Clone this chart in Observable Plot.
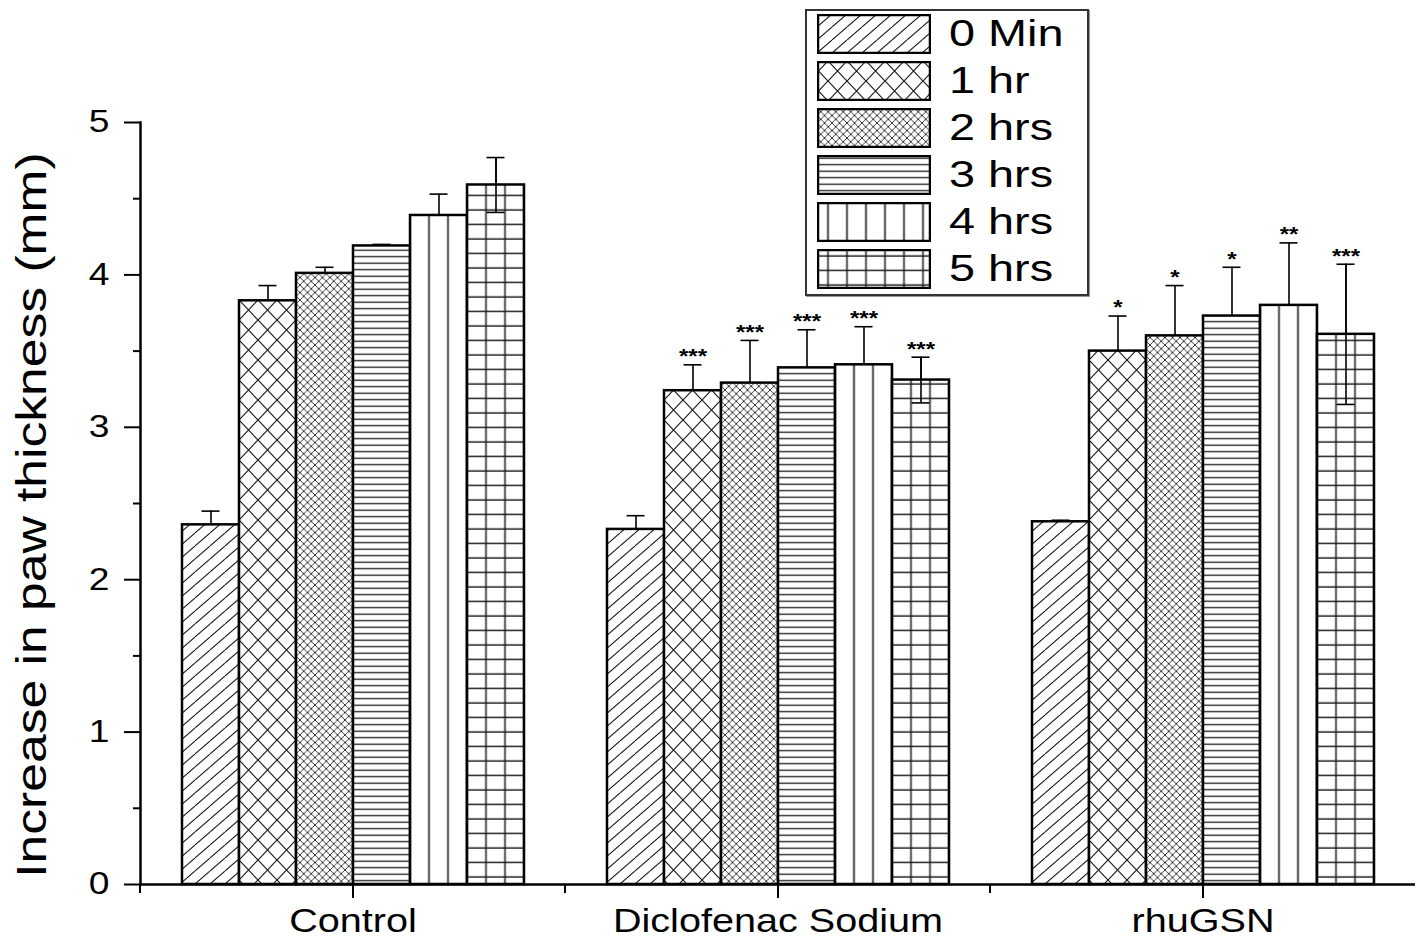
<!DOCTYPE html>
<html>
<head>
<meta charset="utf-8">
<script src="https://cdn.jsdelivr.net/npm/d3@7"></script>
<script src="https://cdn.jsdelivr.net/npm/@observablehq/plot@0.6"></script>
<style>
  body { margin: 0; background: #fff; font-family: "Liberation Sans", Arial, sans-serif; }
  #wrap { position: relative; width: 1419px; height: 939px; overflow: hidden; }
  #ytitle { position: absolute; left: 31px; top: 515px; font-size: 40px; line-height: 1; white-space: nowrap; transform-origin: 0 0; color: #000; }
  #legend { position: absolute; left: 805px; top: 9px; width: 280px; height: 283px; border: 2px solid #333; background: #fff; box-shadow: 1px 1px 0 #999; }
  .lrow { position: absolute; left: 10px; height: 40px; display: flex; align-items: center; }
  .lrow svg { display: block; }
  .lrow span { display: inline-block; margin-left: 18px; font-size: 36px; transform-origin: 0 50%; white-space: nowrap; }
</style>
</head>
<body>
<svg width="0" height="0" style="position:absolute"><defs id="pdefs"></defs></svg>
<div id="wrap">
  <div id="chart"></div>
  <div id="ytitle">Increase in paw thickness (mm)</div>
  <div id="legend"></div>
</div>
<script>
// ---- data ----
const groups = ["Control", "Diclofenac Sodium", "rhuGSN"];
const times = ["0 Min", "1 hr", "2 hrs", "3 hrs", "4 hrs", "5 hrs"];

const controlMean    = [2.36, 3.83, 4.01, 4.19, 4.39, 4.59];
const controlErr     = [0.09, 0.10, 0.04, 0.01, 0.14, 0.18];
const diclofenacMean = [2.33, 3.24, 3.29, 3.39, 3.41, 3.31];
const diclofenacErr  = [0.09, 0.17, 0.28, 0.25, 0.25, 0.15];
const rhugsnMean     = [2.38, 3.50, 3.60, 3.73, 3.80, 3.61];
const rhugsnErr      = [0.01, 0.23, 0.33, 0.32, 0.41, 0.46];

const controlStars    = ["", "", "", "", "", ""];
const diclofenacStars = ["", "***", "***", "***", "***", "***"];
const rhugsnStars     = ["", "*", "*", "*", "**", "***"];

const yTicks = [0, 1, 2, 3, 4, 5];
const yMinorTicks = [0.5, 1.5, 2.5, 3.5, 4.5];
const yLabel = "Increase in paw thickness (mm)";

// ---- table ----
const means = [controlMean, diclofenacMean, rhugsnMean];
const errs = [controlErr, diclofenacErr, rhugsnErr];
const stars = [controlStars, diclofenacStars, rhugsnStars];
const rows = [];
groups.forEach((g, gi) => times.forEach((t, ti) => rows.push({
  group: g, time: t, mean: means[gi][ti], err: errs[gi][ti], stars: stars[gi][ti]
})));
const lastTime = times[times.length - 1];
const patternFills = times.map((t, i) => `url(#pat${i})`);

const font = "'Liberation Sans', Arial, sans-serif";

const chart = Plot.plot({
  width: 1419,
  height: 939,
  marginTop: 122,
  marginBottom: 55,
  marginLeft: 140,
  marginRight: 4,
  style: { fontFamily: font, background: "transparent", color: "#000" },
  fx: { domain: groups, padding: 0, label: null },
  x: { domain: times, paddingInner: 0, paddingOuter: 0.717, axis: null },
  y: { domain: [0, 5] },
  color: { domain: times, range: patternFills },
  marks: [
    Plot.axisY({ ticks: yMinorTicks, tickSize: 7, tickFormat: () => "", label: null, strokeWidth: 2 }),
    Plot.axisY({ ticks: yTicks, tickSize: 16, tickPadding: 15, tickFormat: d => String(d), fontSize: 31, label: null, strokeWidth: 2 }),
    Plot.axisFx({ anchor: "bottom", tickSize: 14, tickPadding: 10, fontSize: 33, label: null, strokeWidth: 2 }),
    // error bars (lower half hidden behind the bars)
    Plot.ruleX(rows, { fx: "group", x: "time", y1: d => d.mean - d.err, y2: d => d.mean + d.err, strokeWidth: 1.6 }),
    Plot.tickY(rows, { fx: "group", x: "time", y: d => d.mean + d.err, insetLeft: 19.5, insetRight: 19.5, strokeWidth: 1.6 }),
    Plot.barY(rows, { fx: "group", x: "time", y: "mean", fill: "time", stroke: "#000", strokeWidth: 2.5 }),
    // last series error bars drawn over the bars
    Plot.ruleX(rows.filter(d => d.time === lastTime), { fx: "group", x: "time", y1: d => d.mean - d.err, y2: d => d.mean + d.err, strokeWidth: 1.6 }),
    Plot.tickY(rows.filter(d => d.time === lastTime), { fx: "group", x: "time", y: d => d.mean - d.err, insetLeft: 19.5, insetRight: 19.5, strokeWidth: 1.6 }),
    Plot.text(rows.filter(d => d.stars), { fx: "group", x: "time", y: d => d.mean + d.err, text: "stars", dy: -8, fontSize: 20, fontWeight: "bold" }),
    Plot.ruleY([0], { strokeWidth: 2.5 }),
    Plot.frame({ anchor: "left", facetAnchor: "left", strokeWidth: 2.5 })
  ]
});
document.getElementById("chart").appendChild(chart);

// ---- hatch patterns, aligned on the band scale ----
const xs = chart.scale("x");
const bw = xs.bandwidth;
const vx = xs.apply("4 hrs");
const vx5 = xs.apply("5 hrs");
const defs = d3.select("#pdefs");
function pattern(id, w, h, path, opts = {}) {
  const p = defs.append("pattern").attr("id", id).attr("patternUnits", "userSpaceOnUse")
    .attr("width", w).attr("height", h).attr("x", opts.x || 0).attr("y", opts.y || 0);
  p.append("rect").attr("width", w).attr("height", h).attr("fill", "#fff");
  p.append("path").attr("d", path).attr("stroke", opts.stroke || "#1a1a1a")
    .attr("stroke-width", opts.sw || 1.2).attr("fill", "none");
}
{
  const w = 15, h = 13;
  pattern("pat0", w, h, `M0,${h}L${w},0M${-w},${h}L0,0M${w},${h}L${2*w},0`, { sw: 1.1 });
}
{
  const w = bw / 3, h = 20;
  pattern("pat1", w, h, `M0,0L${w},${h}M${w},0L0,${h}`, { sw: 1.2, x: xs.apply("1 hr") });
}
pattern("pat2", 7.5, 7.5, "M0,0L7.5,7.5M7.5,0L0,7.5", { sw: 0.9, stroke: "#222" });
pattern("pat3", 10, 6.5, "M0,3.2L10,3.2", { sw: 1.3 });
{
  const w = bw / 3;
  pattern("pat4", w, 10, `M${w/2},0L${w/2},10`, { sw: 1.6, x: vx - w / 2 });
  pattern("pat5", w, 14.5, `M${w/2},0L${w/2},14.5M0,7L${w},7`, { sw: 1.5, x: vx5 - w / 2 });
}

// ---- boundary ticks on the x axis ----
const fxs = chart.scale("fx");
const ys = chart.scale("y");
const y0 = ys.apply(0);
d3.select(chart).append("g").attr("stroke", "#000").attr("stroke-width", 2)
  .selectAll("line").data(groups.map(g => fxs.apply(g)))
  .join("line").attr("x1", d => d).attr("x2", d => d).attr("y1", y0).attr("y2", y0 + 9);

// ---- horizontal stretch of text to match reference ----
d3.select(chart).selectAll("text").each(function () {
  const L = this.getComputedTextLength();
  if (L > 0) {
    this.setAttribute("textLength", L * 1.2);
    this.setAttribute("lengthAdjust", "spacingAndGlyphs");
  }
});

// ---- y title ----
const yt = document.getElementById("ytitle");
yt.textContent = yLabel;
const natW = yt.offsetWidth;
yt.style.transform = `rotate(-90deg) scale(${725 / natW}, 1.08) translate(-50%, -50%)`;

// ---- legend ----
const legend = d3.select("#legend");
times.forEach((t, i) => {
  const row = legend.append("div").attr("class", "lrow").style("top", (3 + 47 * i) + "px");
  const s = row.append("svg").attr("width", 114).attr("height", 40);
  s.append("rect").attr("x", 1).attr("y", 1).attr("width", 112).attr("height", 38)
    .attr("fill", patternFills[i]).attr("stroke", "#000").attr("stroke-width", 2.5);
  row.append("span").text(t).style("transform", "scaleX(1.3)");
});
</script>
</body>
</html>
